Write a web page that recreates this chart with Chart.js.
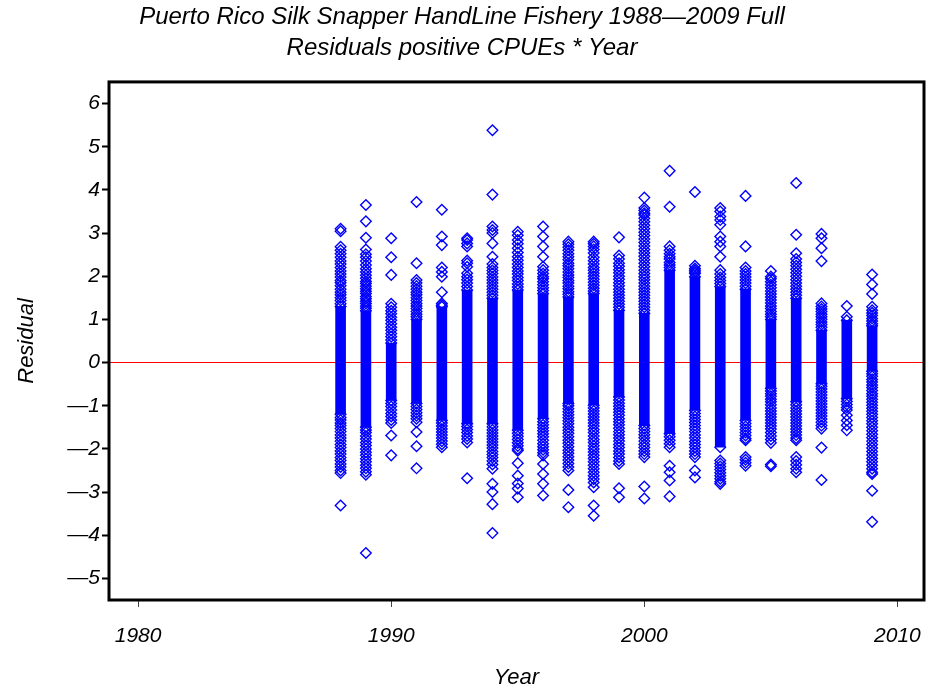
<!DOCTYPE html>
<html>
<head>
<meta charset="utf-8">
<script src="https://cdn.jsdelivr.net/npm/chart.js@4.4.0/dist/chart.umd.min.js"></script>
<style>
  html, body { margin: 0; padding: 0; background: #fff; }
  canvas { display: block; }
</style>
</head>
<body>
<canvas id="canvas" width="927" height="694"></canvas>
<script>
//****DATA****//

var years = [1988, 1989, 1990, 1991, 1992, 1993, 1994, 1995, 1996, 1997, 1998,
  1999, 2000, 2001, 2002, 2003, 2004, 2005, 2006, 2007, 2008, 2009];

// dense band of residuals per year (where the diamonds merge into a solid column)
var coreLow = [-1.2, -1.5, -0.88, -0.95, -1.34, -1.42, -1.42, -1.57, -1.3, -0.95, -0.99,
  -0.8, -1.46, -1.65, -1.11, -1.96, -1.34, -0.6, -0.91, -0.49, -0.84, -0.2];
var coreHigh = [1.3, 1.2, 0.45, 1.0, 1.29, 1.68, 1.49, 1.68, 1.6, 1.52, 1.6,
  1.21, 1.14, 2.14, 1.99, 1.76, 1.7, 1.0, 1.49, 0.75, 0.98, 0.85];

// individual residuals outside the dense band
var res1988 = [1.36, 1.44, 1.5, 1.57, 1.63, 1.7, 1.78, 1.85, 1.9, 1.98, 2.05, 2.12, 2.2, 2.28,
  2.35, 2.44, 2.52, 2.6, 2.68, 3.04, 3.1,
  -1.27, -1.33, -1.4, -1.46, -1.53, -1.6, -1.68, -1.75, -1.82, -1.9, -1.97, -2.05, -2.12,
  -2.2, -2.27, -2.35, -2.42, -2.5, -2.56, -3.31];
var res1989 = [1.26, 1.31, 1.37, 1.42, 1.48, 1.53, 1.6, 1.65, 1.71, 1.77, 1.83, 1.88, 1.95,
  2.02, 2.1, 2.17, 2.26, 2.35, 2.44, 2.51, 2.62, 2.89, 3.27, 3.65,
  -1.56, -1.62, -1.7, -1.77, -1.85, -1.92, -2.0, -2.08, -2.15, -2.23, -2.3, -2.38, -2.45,
  -2.53, -2.6, -4.41];
var res1990 = [0.52, 0.6, 0.67, 0.75, 0.82, 0.9, 0.98, 1.05, 1.13, 1.2, 1.28, 1.36, 2.03,
  2.44, 2.88,
  -0.95, -1.02, -1.1, -1.18, -1.25, -1.33, -1.4, -1.69, -2.15];
var res1991 = [1.06, 1.12, 1.18, 1.25, 1.31, 1.37, 1.44, 1.5, 1.57, 1.63, 1.7, 1.77, 1.84,
  1.91, 2.3, 3.72,
  -1.02, -1.09, -1.16, -1.23, -1.3, -1.38, -1.61, -1.94, -2.45];
var res1992 = [1.33, 1.37, 1.63, 1.99, 2.1, 2.2, 2.72, 2.92, 3.54,
  -1.4, -1.47, -1.54, -1.61, -1.68, -1.75, -1.82, -1.89, -1.96];
var res1993 = [1.76, 1.84, 1.92, 1.99, 2.07, 2.22, 2.3, 2.36, 2.69, 2.76, 2.84, 2.88,
  -1.48, -1.55, -1.62, -1.7, -1.77, -1.85, -2.68];
var res1994 = [1.56, 1.63, 1.7, 1.77, 1.84, 1.91, 1.98, 2.06, 2.13, 2.2, 2.28, 2.45, 2.76,
  3.0, 3.07, 3.15, 3.89, 5.38,
  -1.49, -1.56, -1.63, -1.7, -1.77, -1.84, -1.91, -1.98, -2.06, -2.13, -2.2, -2.28, -2.36,
  -2.46, -2.81, -3.0, -3.28, -3.95];
var res1995 = [1.75, 1.82, 1.9, 1.97, 2.05, 2.12, 2.2, 2.28, 2.37, 2.45, 2.55, 2.65, 2.75,
  2.84, 2.95, 3.03,
  -1.64, -1.71, -1.78, -1.86, -1.93, -2.0, -2.04, -2.33, -2.62, -2.8, -2.92, -3.12];
var res1996 = [1.67, 1.73, 1.8, 1.87, 1.94, 1.99, 2.06, 2.14, 2.22, 2.45, 2.69, 2.92, 3.15,
  -1.37, -1.44, -1.51, -1.58, -1.65, -1.72, -1.8, -1.88, -1.95, -2.02, -2.09, -2.15, -2.35,
  -2.58, -2.81, -3.08];
var res1997 = [1.58, 1.64, 1.71, 1.77, 1.84, 1.9, 1.97, 2.03, 2.1, 2.17, 2.24, 2.3, 2.38,
  2.45, 2.52, 2.6, 2.67, 2.74, 2.8,
  -1.0, -1.07, -1.14, -1.21, -1.28, -1.35, -1.42, -1.5, -1.57, -1.64, -1.72, -1.8, -1.87,
  -1.95, -2.03, -2.1, -2.18, -2.26, -2.34, -2.42, -2.5, -2.95, -3.35];
var res1998 = [1.66, 1.72, 1.79, 1.86, 1.93, 2.0, 2.07, 2.14, 2.2, 2.28, 2.36, 2.44, 2.54,
  2.62, 2.69, 2.75, 2.8,
  -1.05, -1.12, -1.19, -1.26, -1.33, -1.4, -1.47, -1.55, -1.62, -1.7, -1.78, -1.85, -1.93,
  -2.0, -2.07, -2.15, -2.22, -2.3, -2.38, -2.46, -2.54, -2.62, -2.7, -2.78, -2.89, -3.31, -3.55];
var res1999 = [1.28, 1.35, 1.42, 1.49, 1.56, 1.63, 1.7, 1.78, 1.85, 1.93, 2.0, 2.08, 2.15,
  2.23, 2.3, 2.4, 2.48, 2.9,
  -0.87, -0.94, -1.01, -1.08, -1.15, -1.22, -1.3, -1.37, -1.44, -1.52, -1.6, -1.67, -1.75,
  -1.82, -1.9, -1.97, -2.05, -2.12, -2.2, -2.28, -2.35, -2.91, -3.12];
var res2000 = [1.21, 1.28, 1.35, 1.42, 1.49, 1.56, 1.63, 1.7, 1.77, 1.84, 1.92, 1.99, 2.06,
  2.14, 2.22, 2.3, 2.38, 2.46, 2.54, 2.62, 2.7, 2.78, 2.86, 2.94, 3.02, 3.1, 3.18, 3.26,
  3.34, 3.42, 3.46, 3.52, 3.58, 3.82,
  -1.53, -1.6, -1.67, -1.74, -1.82, -1.9, -1.97, -2.05, -2.12, -2.19, -2.87, -3.15];
var res2001 = [2.2, 2.26, 2.32, 2.4, 2.45, 2.52, 2.6, 2.69, 3.61, 4.44,
  -1.72, -1.8, -1.88, -1.96, -2.39, -2.54, -2.73, -3.1];
var res2002 = [2.06, 2.1, 2.14, 2.18, 2.24, 3.95,
  -1.18, -1.25, -1.32, -1.39, -1.46, -1.53, -1.6, -1.68, -1.75, -1.83, -1.9, -1.97, -2.05,
  -2.12, -2.19, -2.5, -2.66];
var res2003 = [1.83, 1.9, 1.97, 2.05, 2.14, 2.45, 2.69, 2.8, 2.92, 3.19, 3.3, 3.38, 3.5, 3.58,
  -2.27, -2.34, -2.41, -2.48, -2.55, -2.62, -2.69, -2.76, -2.81];
var res2004 = [1.77, 1.84, 1.91, 1.98, 2.05, 2.12, 2.2, 2.69, 3.86,
  -1.41, -1.48, -1.55, -1.62, -1.69, -1.76, -1.8, -2.19, -2.25, -2.32, -2.39];
var res2005 = [1.06, 1.12, 1.18, 1.25, 1.31, 1.38, 1.45, 1.52, 1.59, 1.66, 1.73, 1.8, 1.87,
  1.94, 1.99, 2.12,
  -0.66, -0.72, -0.78, -0.85, -0.91, -0.98, -1.05, -1.12, -1.19, -1.26, -1.33, -1.4, -1.47,
  -1.54, -1.62, -1.7, -1.78, -1.86, -2.36, -2.4];
var res2006 = [1.56, 1.63, 1.7, 1.77, 1.84, 1.92, 2.0, 2.08, 2.16, 2.24, 2.32, 2.4, 2.53,
  2.96, 4.16,
  -0.98, -1.05, -1.12, -1.19, -1.26, -1.33, -1.4, -1.47, -1.54, -1.61, -1.68, -1.75, -1.8,
  -2.19, -2.28, -2.37, -2.46, -2.54];
var res2007 = [0.82, 0.88, 0.94, 1.0, 1.06, 1.12, 1.18, 1.24, 1.3, 1.37, 2.35, 2.65, 2.88, 2.98,
  -0.55, -0.61, -0.68, -0.75, -0.82, -0.89, -0.96, -1.03, -1.1, -1.17, -1.24, -1.31, -1.38,
  -1.46, -1.53, -1.97, -2.72];
var res2008 = [1.06, 1.31,
  -0.9, -0.97, -1.04, -1.1, -1.22, -1.34, -1.45, -1.57];
var res2009 = [0.9, 0.96, 1.02, 1.09, 1.15, 1.21, 1.29, 1.59, 1.81, 2.04,
  -0.26, -0.32, -0.39, -0.45, -0.52, -0.58, -0.65, -0.72, -0.78, -0.85, -0.92, -0.99, -1.06,
  -1.13, -1.2, -1.27, -1.35, -1.42, -1.5, -1.58, -1.66, -1.74, -1.82, -1.9, -1.98, -2.06,
  -2.14, -2.22, -2.3, -2.38, -2.46, -2.54, -2.58, -2.97, -3.69];

var residualsByYear = [res1988, res1989, res1990, res1991, res1992, res1993, res1994,
  res1995, res1996, res1997, res1998, res1999, res2000, res2001, res2002, res2003,
  res2004, res2005, res2006, res2007, res2008, res2009];

var xTicks = [1980, 1990, 2000, 2010];
var yTicks = [-5, -4, -3, -2, -1, 0, 1, 2, 3, 4, 5, 6];

var titleLines = [
  'Puerto Rico Silk Snapper HandLine Fishery 1988\u20142009 Full',
  'Residuals positive CPUEs * Year'
];

//****CHART****//

var FONT = "'Liberation Sans', Arial, sans-serif";
var BLUE = '#0000ff';

var points = [];
for (var i = 0; i < years.length; i++) {
  points.push({ x: years[i], y: coreLow[i] });
  points.push({ x: years[i], y: coreHigh[i] });
  for (var r of residualsByYear[i]) {
    points.push({ x: years[i], y: r });
  }
}

var bands = years.map(function (yr, i) {
  return { x: yr, y: [coreLow[i], coreHigh[i]] };
});

// thick box round the plot area
var framePlugin = {
  id: 'frame',
  afterDraw: function (chart) {
    var ctx = chart.ctx;
    var a = chart.chartArea;
    ctx.save();
    ctx.strokeStyle = '#000';
    ctx.lineWidth = 3;
    ctx.strokeRect(a.left, a.top, a.right - a.left, a.bottom - a.top);
    ctx.restore();
  }
};

var ctx = document.getElementById('canvas').getContext('2d');

var chart = new Chart(ctx, {
  type: 'scatter',
  data: {
    datasets: [
      {
        type: 'scatter',
        data: points,
        pointStyle: 'rectRot',
        pointRadius: 5.3,
        pointHoverRadius: 5.3,
        borderColor: BLUE,
        backgroundColor: 'rgba(0,0,0,0)',
        borderWidth: 1.4,
        order: 1
      },
      {
        type: 'bar',
        data: bands,
        backgroundColor: BLUE,
        borderWidth: 0,
        barThickness: 10,
        order: 2
      }
    ]
  },
  options: {
    responsive: false,
    animation: false,
    layout: { autoPadding: false, padding: { left: 0, right: 3, top: 0, bottom: 0 } },
    plugins: {
      legend: { display: false },
      tooltip: { enabled: false },
      title: {
        display: true,
        text: titleLines,
        color: '#000',
        font: { family: FONT, size: 24, style: 'italic', weight: 'normal', lineHeight: 1.29 },
        padding: { top: 2, bottom: 18 }
      }
    },
    scales: {
      x: {
        type: 'linear',
        min: 1978.85,
        max: 2011.05,
        offset: false,
        afterFit: function (scale) {
          scale.height = 94;
          scale.paddingLeft = 0;
          scale.paddingRight = 0;
        },
        afterBuildTicks: function (scale) {
          scale.ticks = xTicks.map(function (v) { return { value: v }; });
        },
        ticks: {
          color: '#000',
          padding: 17,
          maxRotation: 0,
          autoSkip: false,
          font: { family: FONT, size: 21, style: 'italic' },
          callback: function (v) { return String(v); }
        },
        grid: {
          offset: false,
          drawOnChartArea: false,
          tickLength: 7,
          tickColor: '#444',
          tickWidth: 1
        },
        border: { display: false },
        title: {
          display: true,
          text: 'Year',
          color: '#000',
          font: { family: FONT, size: 22, style: 'italic' },
          padding: { top: 0, bottom: 3 }
        }
      },
      y: {
        min: -5.5,
        max: 6.5,
        afterFit: function (scale) { scale.width = 109; },
        afterBuildTicks: function (scale) {
          scale.ticks = yTicks.map(function (v) { return { value: v }; });
        },
        ticks: {
          color: '#000',
          padding: 2,
          autoSkip: false,
          font: { family: FONT, size: 21, style: 'italic' },
          callback: function (v) { return v < 0 ? '\u2014' + Math.abs(v) : String(v); }
        },
        grid: {
          offset: false,
          drawOnChartArea: true,
          color: function (c) { return c.tick && c.tick.value === 0 ? '#ff0000' : 'rgba(0,0,0,0)'; },
          lineWidth: 1,
          tickLength: 7,
          tickColor: '#000',
          tickWidth: 2
        },
        border: { display: false },
        title: {
          display: true,
          text: 'Residual',
          color: '#000',
          font: { family: FONT, size: 22, style: 'italic' },
          padding: { top: 14, bottom: 0 }
        }
      }
    }
  },
  plugins: [framePlugin]
});
</script>
</body>
</html>
